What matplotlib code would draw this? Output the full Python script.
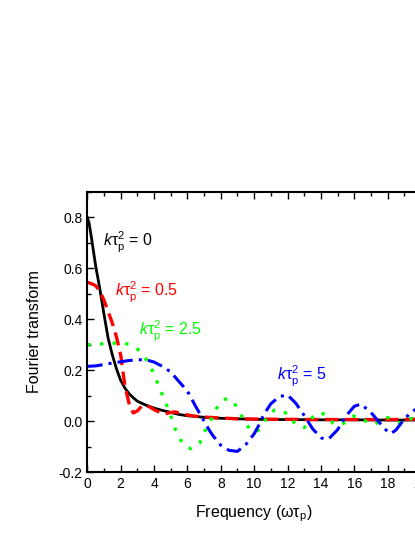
import matplotlib
matplotlib.use("Agg")
import matplotlib.pyplot as plt
from matplotlib import font_manager
from matplotlib.ticker import MultipleLocator, FormatStrFormatter

# values
freq_k0 = [0, 0.1, 0.25, 0.5, 0.75, 1.0, 1.25, 1.5, 1.75, 2.0, 2.25, 2.5, 2.75, 3.0,
           3.5, 4.0, 4.5, 5.0, 5.5, 6.0, 7.0, 8.0, 9.0, 10, 12, 14, 16, 18, 20]
ft_k0 = [0.80, 0.78, 0.72, 0.61, 0.52, 0.42, 0.325, 0.26, 0.205, 0.16, 0.13, 0.108, 0.092, 0.078,
         0.063, 0.051, 0.042, 0.034, 0.026, 0.021, 0.015, 0.011, 0.009, 0.007, 0.006, 0.005, 0.005, 0.004, 0.004]

freq_k05 = [0, 0.25, 0.5, 0.75, 1.0, 1.25, 1.5, 1.75, 2.0, 2.25, 2.5, 2.75, 3.0, 3.25, 3.5,
            3.75, 4.0, 4.25, 4.5, 4.75, 5.0, 5.25, 5.5, 6.0, 6.5, 7.0, 8.0, 9.0, 10, 12, 14, 16, 18, 19.5, 20]
ft_k05 = [0.545, 0.54, 0.532, 0.51, 0.475, 0.43, 0.385, 0.33, 0.26, 0.14, 0.07, 0.032, 0.04, 0.058, 0.063,
          0.055, 0.045, 0.037, 0.030, 0.030, 0.034, 0.036, 0.032, 0.024, 0.019, 0.016, 0.012, 0.009, 0.008, 0.007, 0.006, 0.006, 0.006, 0.007, 0.012]

freq_k25 = [0, 0.5, 1.0, 1.5, 2.0, 2.5, 2.75, 3.0, 3.25, 3.5, 3.75, 4.0, 4.25, 4.5, 4.75,
            5.0, 5.25, 5.5, 5.75, 6.0, 6.25, 6.5, 6.75, 7.0, 7.25, 7.5, 7.75, 8.0, 8.25, 8.5,
            8.75, 9.0, 9.25, 9.5, 9.75, 10.0, 10.25, 10.5, 10.75, 11.0, 11.25, 11.5, 11.75, 12.0,
            12.25, 12.5, 12.75, 13.0, 13.25, 13.5, 13.75, 14.0, 14.25, 14.5, 14.75, 15.0, 15.25,
            15.5, 15.75, 16.0, 16.25, 16.5, 16.75, 17.0, 17.25, 17.5, 17.75, 18.0, 18.25, 18.5,
            18.75, 19.0, 19.25, 19.5, 19.75, 20.0]
ft_k25 = [0.300, 0.302, 0.304, 0.306, 0.307, 0.302, 0.293, 0.283, 0.268, 0.245, 0.215, 0.188, 0.142, 0.103, 0.064,
          0.022, -0.028, -0.064, -0.09, -0.106, -0.108, -0.100, -0.085, -0.045, -0.017, 0.018, 0.05, 0.076, 0.086, 0.087,
          0.078, 0.048, 0.02, -0.007, -0.033, -0.044, -0.036, -0.012, 0.012, 0.034, 0.044, 0.045, 0.038, 0.027,
          0.005, -0.013, -0.022, -0.025, -0.012, 0.015, 0.03, 0.034, 0.024, 0.005, -0.008, -0.016, -0.014,
          -0.002, 0.014, 0.02, 0.016, 0.008, -0.003, -0.010, -0.012, -0.002, 0.012, 0.014, 0.006, -0.004,
          -0.008, -0.002, 0.008, 0.010, 0.004, -0.002]

freq_k5 = [0, 0.5, 1.0, 1.5, 2.0, 2.5, 3.0, 3.5, 4.0, 4.5, 5.0, 5.5, 6.0, 6.5, 7.0, 7.25, 7.5,
           7.75, 8.0, 8.5, 9.0, 9.5, 10.0, 10.25, 10.5, 10.75, 11.0, 11.5, 12.0, 12.5, 13.0, 13.5,
           14.0, 14.25, 14.5, 15.0, 15.5, 16.0, 16.4, 17.0, 17.5, 18.0, 18.2, 18.5, 19.0, 19.5, 20.0]
ft_k5 = [0.215, 0.217, 0.222, 0.228, 0.233, 0.238, 0.241, 0.241, 0.232, 0.215, 0.193, 0.155, 0.118, 0.057, 0.0, -0.029, -0.055,
         -0.075, -0.095, -0.115, -0.119, -0.092, -0.05, -0.02, 0.015, 0.043, 0.068, 0.096, 0.103, 0.07, 0.022, -0.03,
         -0.065, -0.072, -0.068, -0.034, 0.02, 0.058, 0.067, 0.034, -0.005, -0.042, -0.049, -0.035, 0.008, 0.04, 0.055]

labels = [r'$\mathit{k}\mathregular{τ_p^2}$ = 0', r'$\mathit{k}\mathregular{τ_p^2}$ = 0.5',
          r'$\mathit{k}\mathregular{τ_p^2}$ = 2.5', r'$\mathit{k}\mathregular{τ_p^2}$ = 5']

names = {f.name for f in font_manager.fontManager.ttflist}
fam = 'Liberation Sans Narrow' if 'Liberation Sans Narrow' in names else 'Liberation Sans'
plt.rcParams['font.family'] = [fam, 'DejaVu Sans']
plt.rcParams['mathtext.fontset'] = 'custom'
plt.rcParams['mathtext.rm'] = fam
plt.rcParams['mathtext.it'] = fam + ':italic'

fig = plt.figure(figsize=(4.15, 5.37), dpi=100)
# the axes run past the right edge of the figure, as in the reference
ax = fig.add_axes([87.3 / 415, 65 / 537, 333.7 / 415, 280 / 537])

ax.plot(freq_k0, ft_k0, color='black', lw=2.0)
ax.plot(freq_k05, ft_k05, color='#ff0000', lw=2.4, dashes=(4, 2))
ax.plot(freq_k25, ft_k25, color='#00ff00', lw=2.4, dashes=(1, 2.8))
ax.plot(freq_k5, ft_k5, color='#0000ff', lw=2.2, dashes=(5, 2, 1, 2))

ax.text(0.95, 0.685, labels[0], color='black', fontsize=11.5)
ax.text(1.65, 0.488, labels[1], color='#ff0000', fontsize=11.5)
ax.text(3.1, 0.338, labels[2], color='#00ff00', fontsize=11.5)
ax.text(11.35, 0.158, labels[3], color='#0000ff', fontsize=11.5)

ax.set_xlim(0, 20)
ax.set_ylim(-0.2, 0.9)
ax.xaxis.set_major_locator(MultipleLocator(2))
ax.xaxis.set_minor_locator(MultipleLocator(1))
ax.yaxis.set_major_locator(MultipleLocator(0.2))
ax.yaxis.set_minor_locator(MultipleLocator(0.1))
ax.yaxis.set_major_formatter(FormatStrFormatter('%.1f'))
ax.tick_params(which='both', direction='in', top=True, right=False, labelsize=10, width=1)
ax.tick_params(which='major', length=5)
ax.tick_params(which='minor', length=3)
for s in ax.spines.values():
    s.set_linewidth(1.5)

ax.set_xlabel(r'Frequency (ω$\mathregular{τ_p}$)', fontsize=11.5, labelpad=9)
ax.set_ylabel('Fourier transform', fontsize=11.5, labelpad=12)

fig.savefig('out.png', dpi=100)
